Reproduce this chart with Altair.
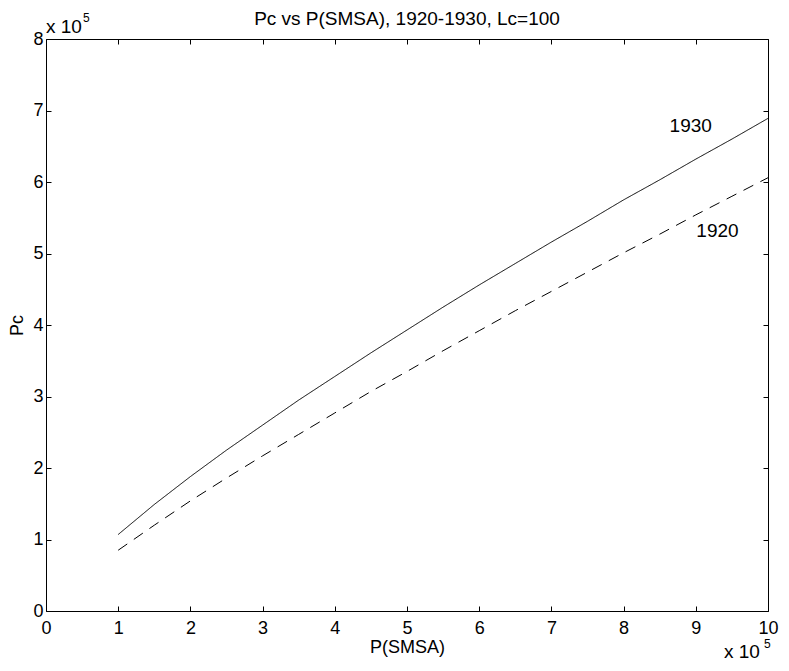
import altair as alt
import pandas as pd

# P(SMSA) in units of 10^5
p_smsa = [1.0, 1.5, 2.0, 2.5, 3.0, 3.5, 4.0, 4.5, 5.0, 5.5,
          6.0, 6.5, 7.0, 7.5, 8.0, 8.5, 9.0, 9.5, 10.0]
# Pc in units of 10^5
pc_1930 = [1.07, 1.49, 1.88, 2.25, 2.60, 2.95, 3.28, 3.61, 3.93, 4.25,
           4.56, 4.86, 5.16, 5.45, 5.75, 6.03, 6.32, 6.60, 6.89]
pc_1920 = [0.85, 1.20, 1.54, 1.86, 2.17, 2.47, 2.77, 3.07, 3.35, 3.64,
           3.92, 4.20, 4.47, 4.74, 5.01, 5.27, 5.54, 5.80, 6.06]

x_ticks = [0, 1, 2, 3, 4, 5, 6, 7, 8, 9, 10]
y_ticks = [0, 1, 2, 3, 4, 5, 6, 7, 8]

label_text = ["1930", "1920"]
label_x = [8.93, 9.30]
label_y = [6.79, 5.31]

title_text = "Pc vs P(SMSA), 1920-1930, Lc=100"

rows = []
for x, a, b in zip(p_smsa, pc_1930, pc_1920):
    rows.append({"P": x, "Pc": a, "year": "1930"})
    rows.append({"P": x, "Pc": b, "year": "1920"})
df = pd.DataFrame(rows)
labels = pd.DataFrame({"x": label_x, "y": label_y, "t": label_text})

FONT = "Liberation Sans"
W, H = 722, 572
xscale = alt.Scale(domain=[0, 10], nice=False, zero=False)
yscale = alt.Scale(domain=[0, 8], nice=False, zero=False)

common_axis = dict(tickSize=5, tickColor="black", tickWidth=1, domain=False,
                   grid=False, offset=-5, labelFont=FONT, labelFontSize=18,
                   labelColor="black", titleFont=FONT, titleFontSize=18,
                   titleColor="black", titleFontWeight="normal")

lines = alt.Chart(df).mark_line(color="black", strokeWidth=1).encode(
    x=alt.X("P:Q", scale=xscale,
            axis=alt.Axis(orient="bottom", values=x_ticks, title="P(SMSA)",
                          labelPadding=8, titleY=46, titleBaseline="alphabetic",
                          labelFlush=False, **common_axis)),
    y=alt.Y("Pc:Q", scale=yscale,
            axis=alt.Axis(orient="left", values=y_ticks, title="Pc",
                          labelPadding=3, titlePadding=6, labelFlush=False,
                          **common_axis)),
    strokeDash=alt.StrokeDash("year:N",
                              scale=alt.Scale(domain=["1930", "1920"],
                                              range=[[1, 0], [11, 8]]),
                              legend=None),
    detail="year:N",
)

ticks2 = alt.Chart(df).mark_point(opacity=0).encode(
    x=alt.X("P:Q", scale=xscale,
            axis=alt.Axis(orient="top", values=x_ticks, labels=False, title=None,
                          **common_axis)),
    y=alt.Y("Pc:Q", scale=yscale,
            axis=alt.Axis(orient="right", values=y_ticks, labels=False, title=None,
                          **common_axis)),
)

text = alt.Chart(labels).mark_text(font=FONT, fontSize=19, color="black").encode(
    x=alt.X("x:Q", scale=xscale, axis=None),
    y=alt.Y("y:Q", scale=yscale, axis=None),
    text="t:N",
)

title_mark = alt.Chart(pd.DataFrame({"t": [title_text]})).mark_text(
    font=FONT, fontSize=19, color="black", align="center", baseline="alphabetic"
).encode(x=alt.value(W / 2), y=alt.value(-14), text="t:N")

exp_df = pd.DataFrame({"t": ["x 10"]})
exp_df5 = pd.DataFrame({"t": ["5"]})
exp_tl = alt.Chart(exp_df).mark_text(font=FONT, fontSize=19, color="black",
                                      align="left", baseline="alphabetic").encode(
    x=alt.value(0), y=alt.value(-6), text="t:N")
exp_tl5 = alt.Chart(exp_df5).mark_text(font=FONT, fontSize=12, color="black",
                                        align="left", baseline="alphabetic").encode(
    x=alt.value(37), y=alt.value(-17), text="t:N")
exp_br = alt.Chart(exp_df).mark_text(font=FONT, fontSize=19, color="black",
                                      align="left", baseline="alphabetic").encode(
    x=alt.value(W - 44), y=alt.value(H + 47), text="t:N")
exp_br5 = alt.Chart(exp_df5).mark_text(font=FONT, fontSize=12, color="black",
                                        align="left", baseline="alphabetic").encode(
    x=alt.value(W - 4), y=alt.value(H + 37), text="t:N")

chart = alt.layer(lines, ticks2, text, title_mark, exp_tl, exp_tl5, exp_br,
                  exp_br5).resolve_axis(
    x="independent", y="independent"
).properties(
    width=W, height=H,
    autosize=alt.AutoSizeParams(type="none"),
    padding={"left": 38, "top": 31, "right": 13, "bottom": 52},
    background="white",
).configure_view(stroke="black", strokeWidth=1)

chart.save("out.html", embed_options={"renderer": "svg", "actions": False})
